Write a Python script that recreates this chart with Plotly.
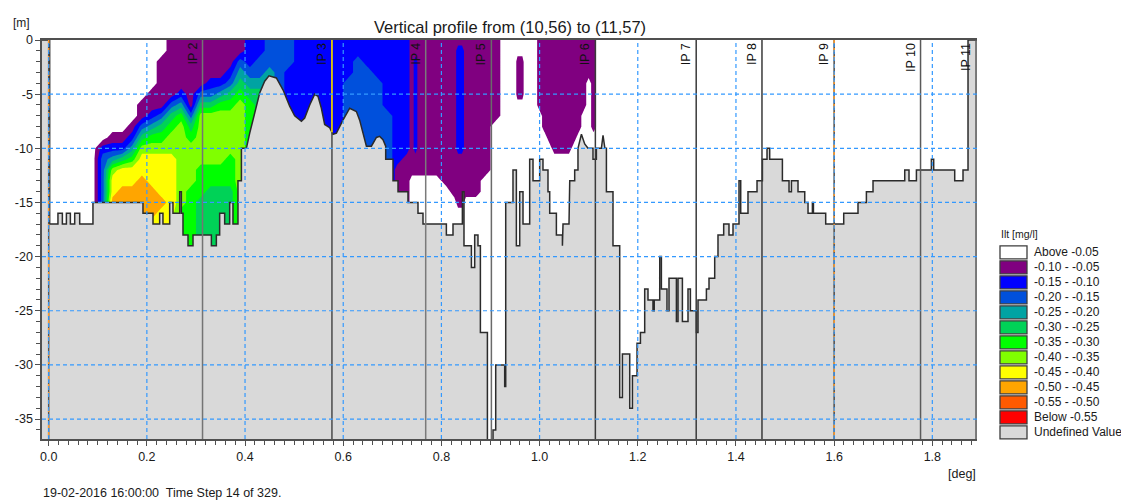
import numpy as np
import plotly.graph_objects as go

# ---------------- texts ----------------
TITLE = "Vertical profile from (10,56) to (11,57)"
TIME_TEXT = "19-02-2016 16:00:00  Time Step 14 of 329."
X_UNIT = "[deg]"
Y_UNIT = "[m]"
LEGEND_TITLE = "Ilt [mg/l]"

# ---------------- axes ----------------
x_tick_vals = [0.0, 0.2, 0.4, 0.6, 0.8, 1.0, 1.2, 1.4, 1.6, 1.8]
x_tick_text = ["0.0", "0.2", "0.4", "0.6", "0.8", "1.0", "1.2", "1.4", "1.6", "1.8"]
y_tick_vals = [0, -5, -10, -15, -20, -25, -30, -35]
y_tick_text = ["0", "-5", "-10", "-15", "-20", "-25", "-30", "-35"]
x_range = [-0.0136, 1.891]
y_range = [-36.84, 0.0]

# ---------------- legend (top to bottom) ----------------
band_labels = ["Above -0.05", "-0.10 - -0.05", "-0.15 - -0.10", "-0.20 - -0.15",
               "-0.25 - -0.20", "-0.30 - -0.25", "-0.35 - -0.30", "-0.40 - -0.35",
               "-0.45 - -0.40", "-0.50 - -0.45", "-0.55 - -0.50", "Below -0.55"]
band_colors = ["#ffffff", "#800080", "#0000ff", "#0050dc", "#00a3a3", "#00d257",
               "#00ff00", "#80ff00", "#ffff00", "#ffa500", "#ff5a00", "#ff0000"]
undefined_label = "Undefined Value"
undefined_color = "#d9d9d9"
level_start, level_end, level_step = -0.55, -0.05, 0.05
# representative concentration of band code 0..9 (0 = above -0.05, 1 = -0.10..-0.05, ...)
band_values = [-0.025, -0.075, -0.125, -0.175, -0.225, -0.275, -0.325, -0.375, -0.425, -0.475]

# ---------------- intersection points ----------------
ip_names = ["IP 1", "IP 2", "IP 3", "IP 4", "IP 5", "IP 6", "IP 7", "IP 8", "IP 9", "IP 10", "IP 11"]
ip_x = [0.0, 0.3134, 0.5770, 0.7680, 0.9018, 1.1136, 1.3190, 1.4530, 1.6000, 1.7760, 1.8890]

# ---------------- bed profile (deg, m) ----------------
bed_points = [
    (-0.0136, 0), (0.0020, 0), (0.0020, -17), (0.0189, -17), (0.0189, -16), (0.0279, -16), (0.0279, -17),
    (0.0361, -17), (0.0361, -16), (0.0442, -16), (0.0442, -17), (0.0530, -17), (0.0530, -16), (0.0632, -16),
    (0.0632, -17), (0.0902, -17), (0.0902, -15), (0.1921, -15), (0.1921, -16), (0.2125, -16), (0.2125, -17),
    (0.2261, -17), (0.2261, -16), (0.2328, -16), (0.2328, -17), (0.2465, -17), (0.2465, -15), (0.2532, -15),
    (0.2532, -16), (0.2669, -16), (0.2669, -14), (0.2703, -14), (0.2703, -16), (0.2736, -16), (0.2736, -18),
    (0.2838, -18), (0.2838, -19), (0.2940, -19), (0.2940, -18), (0.3314, -18), (0.3314, -19), (0.3416, -19),
    (0.3416, -18), (0.3483, -18), (0.3483, -16), (0.3585, -16), (0.3585, -17), (0.3687, -17), (0.3687, -15),
    (0.3754, -15), (0.3754, -17), (0.3856, -17), (0.3856, -13), (0.3926, -13), (0.3926, -10), (0.4027, -10),
    (0.4095, -8.6), (0.4196, -6.7), (0.4298, -4.9), (0.4400, -3.8), (0.4488, -3.3), (0.4638, -3.5),
    (0.4773, -4.6), (0.4909, -6.1), (0.5011, -7.0), (0.5148, -7.5), (0.5215, -7.2), (0.5317, -6.0),
    (0.5419, -5.0), (0.5486, -5.2), (0.5555, -6.3), (0.5622, -7.8), (0.5724, -8.1), (0.5791, -8.7),
    (0.5861, -8.6), (0.5995, -7.4), (0.6132, -6.3), (0.6268, -6.6), (0.6335, -7.4), (0.6403, -8.6),
    (0.6472, -9.8), (0.6574, -9.8), (0.6676, -9.0), (0.6743, -8.9), (0.6810, -9.2), (0.6865, -9.8),
    (0.6865, -11), (0.7014, -11), (0.7014, -13), (0.7116, -13), (0.7116, -14), (0.7319, -14), (0.7319, -15),
    (0.7523, -15), (0.7523, -16), (0.7625, -16), (0.7625, -17), (0.8101, -17), (0.8101, -18), (0.8236, -18),
    (0.8236, -17), (0.8427, -17), (0.8427, -14), (0.8460, -14), (0.8460, -19), (0.8611, -19), (0.8611, -21),
    (0.8678, -21), (0.8678, -18), (0.8745, -18), (0.8745, -19), (0.8794, -19), (0.8794, -27), (0.8937, -27),
    (0.8937, -38), (0.9051, -38), (0.9051, -36), (0.9106, -36), (0.9106, -30), (0.9289, -30), (0.9289, -32),
    (0.9310, -32), (0.9310, -15), (0.9458, -15), (0.9458, -12), (0.9527, -12), (0.9527, -19), (0.9595, -19),
    (0.9595, -14), (0.9662, -14), (0.9662, -17), (0.9798, -17), (0.9798, -11), (0.9866, -11), (0.9866, -13),
    (1.0002, -13), (1.0002, -11), (1.0069, -11), (1.0069, -12), (1.0171, -12), (1.0171, -14), (1.0206, -14),
    (1.0206, -16), (1.0342, -16), (1.0342, -18), (1.0465, -18), (1.0465, -19), (1.0477, -19), (1.0477, -17),
    (1.0599, -17), (1.0599, -16), (1.0614, -16), (1.0614, -13), (1.0715, -13), (1.0715, -12), (1.0782, -12),
    (1.0782, -10), (1.0852, -8.7), (1.0919, -9.6), (1.0986, -10), (1.1088, -10), (1.1088, -11), (1.1157, -11),
    (1.1157, -10), (1.1259, -10), (1.1292, -8.8), (1.1330, -10), (1.1361, -10), (1.1361, -14), (1.1495, -14),
    (1.1495, -19), (1.1632, -19), (1.1632, -33), (1.1687, -33), (1.1687, -29), (1.1836, -29), (1.1836, -34),
    (1.1891, -34), (1.1891, -31), (1.1985, -31), (1.1985, -28), (1.2054, -28), (1.2054, -27), (1.2141, -27),
    (1.2141, -23), (1.2208, -23), (1.2208, -24), (1.2310, -24), (1.2310, -25), (1.2335, -25), (1.2335, -24),
    (1.2447, -24), (1.2447, -20), (1.2481, -20), (1.2481, -23), (1.2595, -23), (1.2595, -25), (1.2636, -25),
    (1.2636, -22), (1.2787, -22), (1.2787, -26), (1.2820, -26), (1.2820, -22), (1.2909, -22), (1.2909, -26),
    (1.3023, -26), (1.3023, -23), (1.3072, -23), (1.3072, -25), (1.3194, -25), (1.3194, -27), (1.3227, -27),
    (1.3227, -24), (1.3398, -24), (1.3398, -23), (1.3451, -23), (1.3451, -22), (1.3567, -22), (1.3567, -20),
    (1.3634, -20), (1.3634, -18), (1.3750, -18), (1.3750, -17), (1.3858, -17), (1.3858, -18), (1.3940, -18),
    (1.3940, -17), (1.4062, -17), (1.4062, -13), (1.4097, -13), (1.4097, -16), (1.4245, -16), (1.4245, -14),
    (1.4429, -14), (1.4429, -13), (1.4539, -13), (1.4539, -11), (1.4633, -11), (1.4633, -10), (1.4687, -10),
    (1.4687, -11), (1.4946, -11), (1.4946, -13), (1.5081, -13), (1.5081, -14), (1.5130, -14), (1.5130, -13),
    (1.5264, -13), (1.5264, -14), (1.5401, -14), (1.5401, -15), (1.5468, -15), (1.5468, -16), (1.5557, -16),
    (1.5557, -15), (1.5578, -15), (1.5578, -16), (1.5828, -16), (1.5828, -17), (1.6195, -17), (1.6195, -16),
    (1.6486, -16), (1.6486, -15), (1.6657, -15), (1.6657, -14), (1.6792, -14), (1.6792, -13), (1.7438, -13),
    (1.7438, -12), (1.7525, -12), (1.7525, -13), (1.7676, -13), (1.7676, -12), (1.7981, -12), (1.7981, -11),
    (1.8028, -11), (1.8028, -12), (1.8456, -12), (1.8456, -13), (1.8625, -13), (1.8625, -12), (1.8727, -12),
    (1.8727, 0), (1.8910, 0),
]

# ---------------- concentration field: band code per column, rows z = 0 .. -19 m ----------------
field_depths = [0, -1, -2, -3, -4, -5, -6, -7, -8, -9, -10, -11, -12, -13, -14, -15, -16, -17, -18, -19]
field_columns = [
    (0.09, "00000000000000000000"),
    (0.11, "00000000002333333333"),
    (0.13, "00000000012478899999"),
    (0.15, "00000000012588999999"),
    (0.17, "00000000124688999999"),
    (0.19, "00000011357889999999"),
    (0.21, "00000112467888999888"),
    (0.23, "00111113567888898888"),
    (0.25, "11111135677888888888"),
    (0.27, "11111246777777776666"),
    (0.29, "11111113567777666666"),
    (0.31, "11111357777766655555"),
    (0.33, "11112357777766555555"),
    (0.35, "11112467777766555555"),
    (0.37, "11123567777666555555"),
    (0.39, "11345677777777777777"),
    (0.41, "22234566666666666666"),
    (0.43, "22334555555555555555"),
    (0.45, "33344444444444444444"),
    (0.47, "33333333333333333333"),
    (0.49, "33322222222222222222"),
    (0.51, "22222222222222222222"),
    (0.53, "22222222222222222222"),
    (0.55, "22222222222222222222"),
    (0.57, "22222222222222222222"),
    (0.59, "22222222222222222222"),
    (0.61, "22223333333333333333"),
    (0.63, "22333333333333333333"),
    (0.65, "22233333333333333333"),
    (0.67, "22223333333333333333"),
    (0.69, "22222223333333333333"),
    (0.71, "22222222222211111111"),
    (0.73, "22222222222111111111"),
    (0.74, "11111111111110000000"),
    (0.747, "11222222222110000000"),
    (0.755, "11111111111110000000"),
    (0.77, "11111111111110000000"),
    (0.79, "11111111111110000000"),
    (0.81, "11111111111111000000"),
    (0.826, "11111111111111100000"),
    (0.834, "12222222222111110000"),
    (0.842, "12222222222111110000"),
    (0.85, "11111111111111100000"),
    (0.87, "11111111111111100000"),
    (0.89, "11111111111110000000"),
    (0.91, "11111111000000000000"),
    (0.93, "00000000000000000000"),
    (0.94, "00000000000000000000"),
    (0.95, "00000000000000000000"),
    (0.955, "00111100000000000000"),
    (0.96, "00111100000000000000"),
    (0.965, "00111100000000000000"),
    (0.97, "00000000000000000000"),
    (0.98, "00000000000000000000"),
    (0.99, "00000000000000000000"),
    (1.00, "11111110000000000000"),
    (1.01, "11111111100000000000"),
    (1.02, "11111111110000000000"),
    (1.03, "11111111111000000000"),
    (1.04, "11111111111000000000"),
    (1.05, "11111111111000000000"),
    (1.06, "11111111111000000000"),
    (1.07, "11111111110000000000"),
    (1.08, "11111111100000000000"),
    (1.09, "11111110000000000000"),
    (1.10, "11110000000000000000"),
    (1.11, "11111111100000000000"),
    (1.12, "00000000000000000000"),
    (1.13, "00000000000000000000"),
]

# ---------------- build ----------------
for cx, codes in field_columns:
    assert len(codes) == len(field_depths), cx

# the field is padded with the background ("Above -0.05") value out to the frame,
# so the contour's domain edges fall on the plot border
pad_code = "0" * len(field_depths)
cols = [(x_range[0], pad_code)] + field_columns + [(x_range[1], pad_code)]
col_x = [c[0] for c in cols]
depths = field_depths + [y_range[0] - 1]
field = []
for i in range(len(depths)):
    src = min(i, len(field_depths) - 1)
    field.append([band_values[int(cols[j][1][src])] for j in range(len(cols))])

bed_x = [p[0] for p in bed_points]
bed_z = [p[1] for p in bed_points]

FONT = "Liberation Sans, Arial, sans-serif"
W, H = 1121, 500
PL, PR, PT, PB = 42, 977, 40, 439  # plot frame in px


def fx(px):
    return (px - PL) / (PR - PL)


def fy(py):
    return (PB - py) / (PB - PT)


colorscale = [[k / 11.0, c] for k, c in enumerate(reversed(band_colors))]

fig = go.Figure()

fig.add_trace(go.Contour(
    x=col_x, y=depths, z=field,
    autocontour=False,
    contours=dict(start=level_start, end=level_end, size=level_step,
                  coloring="fill", showlines=False),
    colorscale=colorscale, showscale=False,
    line=dict(width=0, color="rgba(0,0,0,0)", smoothing=0),
    hoverinfo="skip",
))

y_floor = y_range[0] - 5
fig.add_trace(go.Scatter(
    x=bed_x + [x_range[1], x_range[0], bed_x[0]],
    y=bed_z + [y_floor, y_floor, bed_z[0]],
    mode="lines", fill="toself", fillcolor=undefined_color,
    line=dict(width=0), hoverinfo="skip", showlegend=False,
))
fig.add_trace(go.Scatter(
    x=bed_x, y=bed_z, mode="lines",
    line=dict(color="#2b2b2b", width=1.5), hoverinfo="skip", showlegend=False,
))

# IP lines
ip_colors = ["#555555", "#747474", "#4a4a4a", "#7a7a7a", "#6a6a6a", "#3a3a3a",
             "#3a3a3a", "#3a3a3a", "#4a4a4a", "#5a5a5a", "#5a5a5a"]
for name, xv, col in zip(ip_names, ip_x, ip_colors):
    fig.add_trace(go.Scatter(x=[xv, xv], y=[0, y_floor], mode="lines",
                             line=dict(color=col, width=1.5),
                             hoverinfo="skip", showlegend=False))
# yellow part of IP 3 in the water column
ip3_bed = float(np.interp(ip_x[2], bed_x, bed_z))
fig.add_trace(go.Scatter(x=[ip_x[2], ip_x[2]], y=[0, ip3_bed], mode="lines",
                         line=dict(color="#ffe000", width=1.5),
                         hoverinfo="skip", showlegend=False))
# orange dashed IP 1 and IP 9
for idx in (0, 8):
    fig.add_trace(go.Scatter(x=[ip_x[idx], ip_x[idx]], y=[0, y_floor], mode="lines",
                             line=dict(color="#ff9a2a", width=1.5, dash="4px,4px"),
                             hoverinfo="skip", showlegend=False))

shapes = []
grid_style = dict(color="#3399ff", width=1.2, dash="4px,3px")
for xv in x_tick_vals:
    shapes.append(dict(type="line", xref="x", yref="paper", x0=xv, x1=xv, y0=0, y1=1,
                       line=grid_style, layer="above"))
for yv in y_tick_vals[1:]:
    shapes.append(dict(type="line", xref="paper", yref="y", x0=0, x1=1, y0=yv, y1=yv,
                       line=grid_style, layer="above"))

annotations = []
# IP labels
for name, xv in zip(ip_names[1:], ip_x[1:]):
    annotations.append(dict(x=xv, y=1, xref="x", yref="paper", text=name, showarrow=False,
                            textangle=-90, xanchor="right", yanchor="top", xshift=-1, yshift=-1,
                            font=dict(family=FONT, size=12.5, color="#111111")))

# title & unit labels
annotations.append(dict(x=0.5, y=fy(27), xref="paper", yref="paper", text=TITLE, showarrow=False,
                        xanchor="center", yanchor="middle",
                        font=dict(family=FONT, size=16.5, color="#1a1a1a")))
annotations.append(dict(x=fx(11), y=fy(23), xref="paper", yref="paper", text=Y_UNIT, showarrow=False,
                        xanchor="left", yanchor="middle",
                        font=dict(family=FONT, size=12, color="#1a1a1a")))
annotations.append(dict(x=fx(978), y=fy(474), xref="paper", yref="paper", text=X_UNIT, showarrow=False,
                        xanchor="right", yanchor="middle",
                        font=dict(family=FONT, size=12.5, color="#1a1a1a")))
annotations.append(dict(x=fx(41), y=fy(493), xref="paper", yref="paper", text=TIME_TEXT, showarrow=False,
                        xanchor="left", yanchor="middle",
                        font=dict(family=FONT, size=12.5, color="#1a1a1a")))

# legend
annotations.append(dict(x=fx(999), y=fy(234), xref="paper", yref="paper", text=LEGEND_TITLE,
                        showarrow=False, xanchor="left", yanchor="middle",
                        font=dict(family=FONT, size=10.5, color="#1a1a1a")))
leg_labels = band_labels + [undefined_label]
leg_colors = band_colors + [undefined_color]
for i, (lab, col) in enumerate(zip(leg_labels, leg_colors)):
    cy = 252.3 + 15 * i
    shapes.append(dict(type="rect", xref="paper", yref="paper",
                       x0=fx(1000), x1=fx(1027), y0=fy(cy + 6.5), y1=fy(cy - 6.5),
                       fillcolor=col, line=dict(color="#3c3c3c", width=1.3), layer="above"))
    annotations.append(dict(x=fx(1032), y=fy(cy), xref="paper", yref="paper", text=lab,
                            showarrow=False, xanchor="left", yanchor="middle",
                            font=dict(family=FONT, size=12, color="#1a1a1a")))

axis_common = dict(showgrid=False, zeroline=False, showline=True, linecolor="#505050", linewidth=1.6,
                   ticks="outside", ticklen=5, tickwidth=1, tickcolor="#505050", automargin=False,
                   tickfont=dict(family=FONT, size=12.5, color="#1a1a1a"))

fig.update_layout(
    width=W, height=H,
    margin=dict(l=PL, r=W - PR, t=PT, b=H - PB, pad=0),
    paper_bgcolor="white", plot_bgcolor="white",
    showlegend=False,
    xaxis=dict(range=x_range, tickmode="array", tickvals=x_tick_vals, ticktext=x_tick_text,
               mirror=True,
               minor=dict(tickmode="linear", tick0=0, dtick=0.02, ticks="outside", ticklen=4,
                          tickcolor="#505050", showgrid=False),
               **axis_common),
    yaxis=dict(range=y_range, tickmode="array", tickvals=y_tick_vals, ticktext=y_tick_text,
               minor=dict(tickmode="linear", tick0=0, dtick=1, ticks="outside", ticklen=4,
                          tickcolor="#505050", showgrid=False),
               **axis_common),
    shapes=shapes,
    annotations=annotations,
)

fig.write_html("out.html", config={"displayModeBar": False, "staticPlot": True})

# remove the browser's default page margin so the figure sits at the window origin
with open("out.html", "r", encoding="utf-8") as fh:
    html = fh.read()
html = html.replace("<head>", "<head><style>html,body{margin:0;padding:0;overflow:hidden;}</style>", 1)
with open("out.html", "w", encoding="utf-8") as fh:
    fh.write(html)
